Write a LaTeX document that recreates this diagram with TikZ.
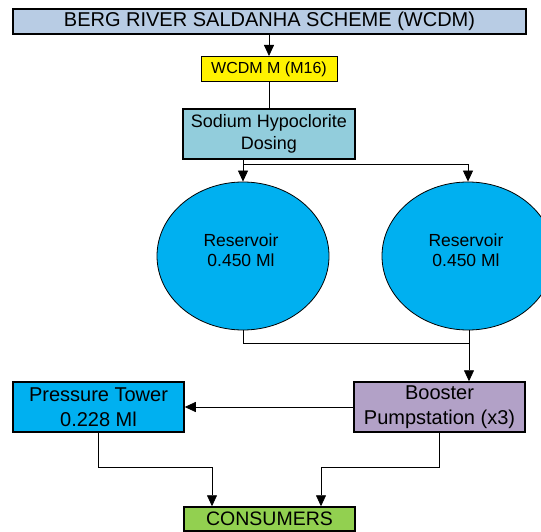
\documentclass[tikz,border=0pt]{standalone}
\usepackage{fontspec}
\setmainfont{Liberation Sans}
\usetikzlibrary{arrows.meta,shapes.geometric}
\definecolor{topblue}{HTML}{B8CCE4}
\definecolor{dosblue}{HTML}{92CDDC}
\definecolor{resblue}{HTML}{00B0F0}
\definecolor{boostpurple}{HTML}{B2A1C7}
\definecolor{consgreen}{HTML}{92D050}
\tikzset{
  box/.style={draw=black, line width=1.5pt, inner sep=0pt, align=center, text=black},
  res/.style={ellipse, draw=black, line width=0.8pt, fill=resblue, inner sep=0pt,
    minimum width=172pt, minimum height=148pt},
  restext/.style={align=center, inner sep=0pt, font=\fontsize{17.5}{20}\selectfont},
  conn/.style={draw=black, line width=0.8pt},
  arr/.style={conn, -{Triangle[width=10pt,length=11pt]}}
}
\begin{document}
\begin{tikzpicture}[x=1pt,y=-1pt]
\useasboundingbox (0,0) rectangle (541,532);
\clip (0,0) rectangle (541,532);
\node[box, fill=topblue, minimum width=513pt, minimum height=25pt,
  font=\fontsize{20}{24}\selectfont] (top) at (269.5,21.5) {BERG RIVER SALDANHA SCHEME (WCDM)};
\node[box, fill=yellow, line width=1pt, minimum width=136pt, minimum height=25pt,
  font=\fontsize{16}{19}\selectfont] (meter) at (269,69) {WCDM M (M16)};
\node[box, fill=dosblue, minimum width=172pt, minimum height=50pt,
  font=\fontsize{18}{22}\selectfont] (dos) at (269,134) {Sodium Hypoclorite\\Dosing};
\node[res] (res1) at (243,256) {};
\node[restext] (res1t) at (241,250) {Reservoir\\0.450 Ml};
\node[res] (res2) at (468,256) {};
\node[restext] (res2t) at (466,250) {Reservoir\\0.450 Ml};
\node[box, fill=boostpurple, minimum width=171pt, minimum height=50pt,
  font=\fontsize{20}{25}\selectfont] (boost) at (439.5,407) {Booster\\Pumpstation (x3)};
\node[box, fill=resblue, minimum width=171pt, minimum height=50pt,
  font=\fontsize{20}{25}\selectfont] (tower) at (98.5,407) {Pressure Tower\\0.228 Ml};
\node[box, fill=consgreen, minimum width=171pt, minimum height=24pt,
  font=\fontsize{19.5}{23}\selectfont] (cons) at (269.5,519) {CONSUMERS};

\coordinate (j1) at (243,164);
\coordinate (j2) at (469,343);
\coordinate (j3) at (212,467);
\coordinate (j4) at (321,467);

\draw[arr] (top.south -| meter.north) -- (meter.north);
\draw[conn] (meter.south) -- (dos.north);
\draw[arr] (dos.south -| res1.north) -- (res1.north);
\draw[arr] (j1) -| (res2.north);
\draw[conn] (res1.south) |- (j2);
\draw[arr] (res2.south -| j2) -- (j2 |- boost.north);
\draw[arr] (boost.west) -- (tower.east);
\draw[arr] (tower.south) |- (j3) -- (j3 |- cons.north);
\draw[arr] (boost.south -| 439,0) |- (j4) -- (j4 |- cons.north);
\end{tikzpicture}
\end{document}
